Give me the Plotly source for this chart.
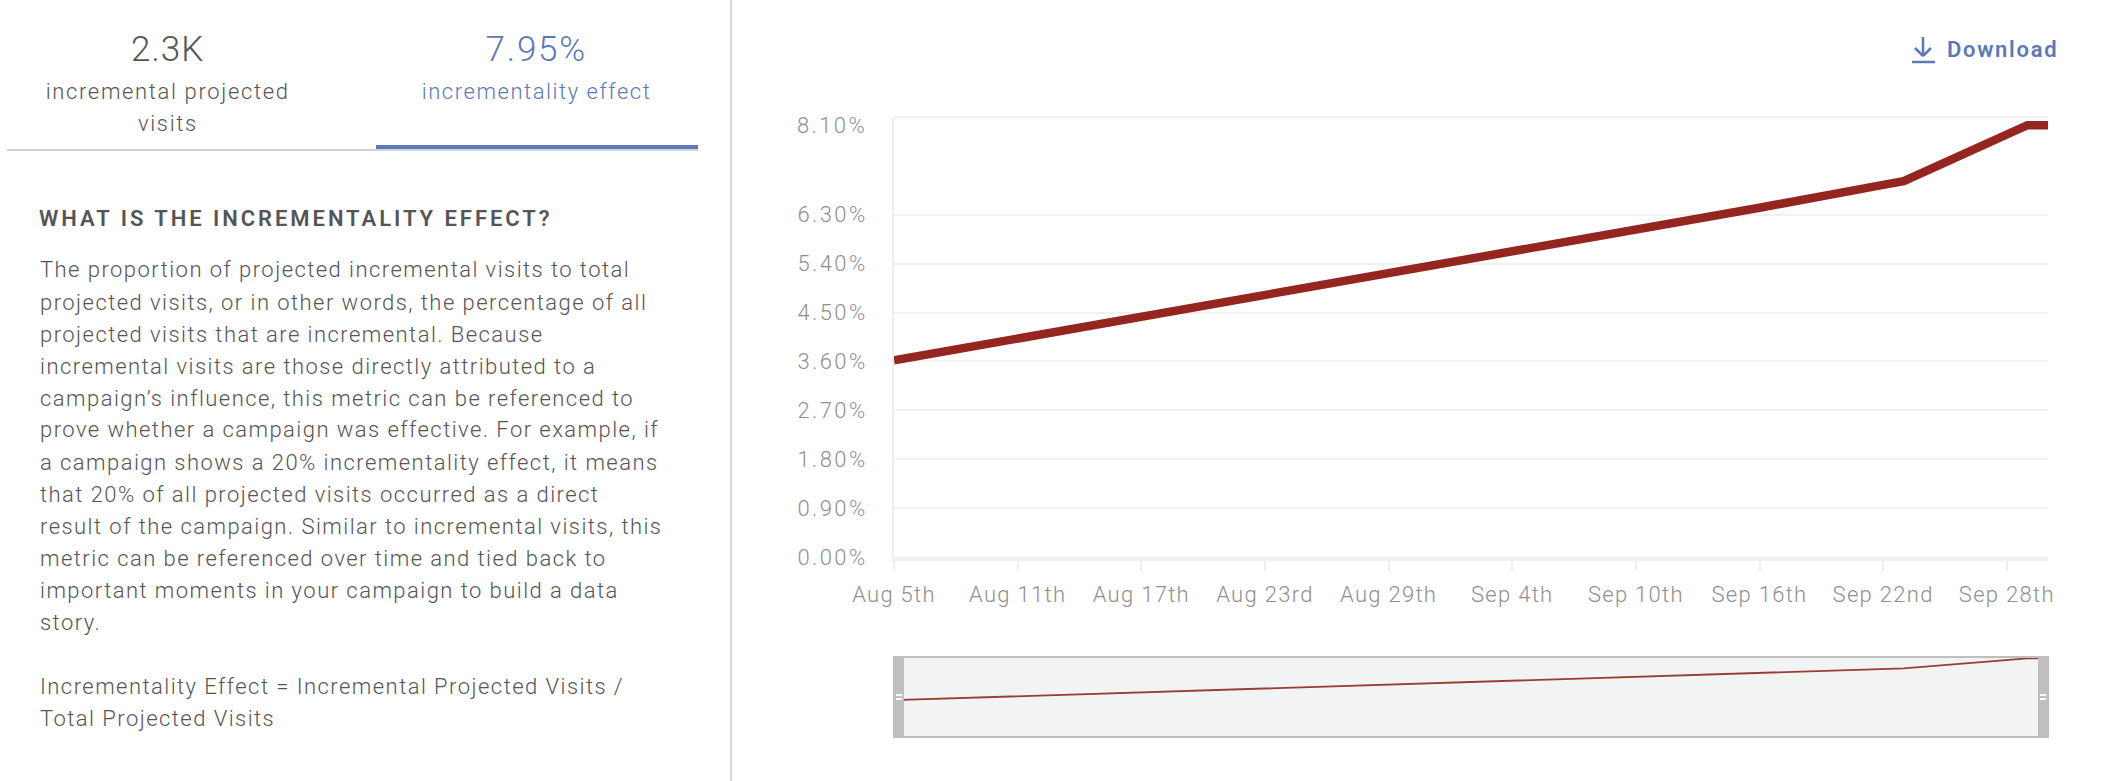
import plotly.graph_objects as go

W, H = 2104, 781

dates = ["2023-08-05", "2023-08-11", "2023-08-17", "2023-08-23", "2023-08-29", "2023-09-04",
         "2023-09-10", "2023-09-16", "2023-09-22", "2023-09-23", "2023-09-29", "2023-09-30"]
effect = [3.62, 4.02, 4.41, 4.82, 5.24, 5.64, 6.01, 6.43, 6.85, 6.92, 7.95, 7.95]

x_tick_dates = ["2023-08-05", "2023-08-11", "2023-08-17", "2023-08-23", "2023-08-29",
                "2023-09-04", "2023-09-10", "2023-09-16", "2023-09-22", "2023-09-28"]
x_tick_labels = ["Aug 5th", "Aug 11th", "Aug 17th", "Aug 23rd", "Aug 29th",
                 "Sep 4th", "Sep 10th", "Sep 16th", "Sep 22nd", "Sep 28th"]
y_tick_vals = [0, 0.9, 1.8, 2.7, 3.6, 4.5, 5.4, 6.3]
y_tick_labels = ["0.00%", "0.90%", "1.80%", "2.70%", "3.60%", "4.50%", "5.40%", "6.30%"]
y_top_label = "8.10%"
y_top_value = 8.1

body_lines = [
    "The proportion of projected incremental visits to total",
    "projected visits, or in other words, the percentage of all",
    "projected visits that are incremental. Because",
    "incremental visits are those directly attributed to a",
    "campaign’s influence, this metric can be referenced to",
    "prove whether a campaign was effective. For example, if",
    "a campaign shows a 20% incrementality effect, it means",
    "that 20% of all projected visits occurred as a direct",
    "result of the campaign. Similar to incremental visits, this",
    "metric can be referenced over time and tied back to",
    "important moments in your campaign to build a data",
    "story.",
]
formula_lines = ["Incrementality Effect = Incremental Projected Visits /", "Total Projected Visits"]

FONT = "Roboto"
DARK = "#555555"
BLUE = "#5b78b8"
RED = "#94261f"
GRID = "#f0f1f1"
TICK = "#8f8f8f"
FRAME = "#bfbfbf"


def px(x):
    return x / W


def py(y):
    return 1 - y / H


fig = go.Figure()
fig.add_trace(go.Scatter(x=dates, y=effect, mode="lines", xaxis="x", yaxis="y",
                         line=dict(color=RED, width=8.5), hoverinfo="skip", showlegend=False))
fig.add_trace(go.Scatter(x=dates, y=effect, mode="lines", xaxis="x2", yaxis="y2",
                         line=dict(color="#9c3a35", width=1.8), hoverinfo="skip", showlegend=False))


def rect(x0, y0, x1, y1, color, layer="below"):
    return dict(type="rect", xref="paper", yref="paper", x0=px(x0), x1=px(x1), y0=py(y0), y1=py(y1),
                fillcolor=color, line=dict(width=0), layer=layer)


def seg(x0, y0, x1, y1, color, w):
    return dict(type="line", xref="paper", yref="paper", x0=px(x0), x1=px(x1), y0=py(y0), y1=py(y1),
                line=dict(color=color, width=w))


shapes = [
    rect(730, 0, 732, H, "#d5d7da"),
    rect(7, 149, 698, 151, "#cfd3d6"),
    rect(376, 145, 698, 149, BLUE),
    rect(893, 656, 2049, 738, "#f2f4f3"),
    rect(893, 656, 904, 738, FRAME, "above"),
    rect(2038, 656, 2049, 738, FRAME, "above"),
    rect(893, 656, 2049, 658, FRAME, "above"),
    rect(893, 736, 2049, 738, FRAME, "above"),
    rect(896, 694, 902, 696, "#ffffff", "above"),
    rect(896, 698, 902, 700, "#ffffff", "above"),
    rect(2040, 694, 2046, 696, "#ffffff", "above"),
    rect(2040, 698, 2046, 700, "#ffffff", "above"),
    seg(1923, 37, 1923, 56, BLUE, 2.5),
    seg(1915, 48, 1923, 56, BLUE, 2.5),
    seg(1931, 48, 1923, 56, BLUE, 2.5),
    seg(1912, 62, 1935, 62, BLUE, 2.5),
    seg(894, 117, 2048, 117, GRID, 2),
]


def label(x, y, text, size, color=DARK, anchor="left", weight=400):
    return dict(xref="paper", yref="paper", x=px(x), y=py(y), text=text, showarrow=False,
                xanchor=anchor, yanchor="middle", align=anchor,
                font=dict(family=FONT, size=size, color=color, weight=weight))


annotations = [
    label(167.5, 50, "2.3K", 35, DARK, "center", 300),
    label(536.5, 50, "7.95%", 35, BLUE, "center", 300),
    label(167.5, 92, "incremental projected", 22, DARK, "center", 300),
    label(167.5, 124, "visits", 22, DARK, "center", 300),
    label(536.5, 92, "incrementality effect", 22, BLUE, "center", 300),
    label(37, 218, "WHAT IS THE INCREMENTALITY EFFECT?", 22, DARK, "left", 600),
    label(1944.5, 50, "Download", 22, BLUE, "left", 600),
    # The top tick label sits just under the top of the axis in the reference.
    dict(xref="paper", yref="paper", x=px(869), y=py(125), text=y_top_label, showarrow=False,
         xanchor="right", yanchor="middle", align="right",
         font=dict(family=FONT, size=22, color=TICK, weight=300)),
]
body_y = [270, 302, 334, 366, 398, 430, 462, 494, 526, 558, 590, 622]
for yy, line in zip(body_y, body_lines):
    annotations.append(label(38, yy, line, 22, DARK, "left", 300))
for yy, line in zip([686, 718], formula_lines):
    annotations.append(label(38, yy, line, 22, DARK, "left", 300))

x_range = ["2023-08-05", "2023-09-30"]

fig.update_layout(
    template="none",
    width=W, height=H, autosize=False,
    margin=dict(l=0, r=0, t=0, b=0, autoexpand=False),
    paper_bgcolor="white", plot_bgcolor="rgba(0,0,0,0)",
    font=dict(family=FONT),
    shapes=shapes, annotations=annotations,
    xaxis=dict(domain=[px(894), px(2048)], range=x_range, type="date", automargin=False,
               tickmode="array", tickvals=x_tick_dates, ticktext=x_tick_labels,
               showgrid=False, zeroline=False, showline=True, linecolor="#eff0f1", linewidth=4,
               ticks="outside", ticklen=10, tickwidth=2, tickcolor="#eeeeee",
               tickfont=dict(family=FONT, size=22, color=TICK, weight=300),
               ticklabelstandoff=5, anchor="y"),
    yaxis=dict(domain=[py(557), py(117)], range=[0, y_top_value], automargin=False,
               tickmode="array", tickvals=y_tick_vals, ticktext=y_tick_labels,
               showgrid=True, gridcolor=GRID, gridwidth=2, zeroline=False,
               showline=True, linecolor="#eeeeee", linewidth=2, ticks="",
               tickfont=dict(family=FONT, size=22, color=TICK, weight=300),
               ticklabelstandoff=20, anchor="x"),
    xaxis2=dict(domain=[px(894), px(2048)], range=x_range, type="date", visible=False, anchor="y2"),
    yaxis2=dict(domain=[py(735), py(657)], range=[0, y_top_value], visible=False, anchor="x2"),
)

spacing_js = """
document.body.style.margin='0';
document.documentElement.style.overflow='hidden';
document.querySelectorAll('.xtick text').forEach(function(t){t.style.letterSpacing='1.3px';});
document.querySelectorAll('.ytick text').forEach(function(t){t.style.letterSpacing='2.4px';});
document.querySelectorAll('.annotation-text').forEach(function(t){
  var s=t.textContent, v='1.45px';
  if(s==='2.3K'){v='1px';}
  else if(s==='7.95%'){v='1.8px';}
  else if(s==='incrementality effect'){v='1.55px';}
  else if(s==='incremental projected'||s==='visits'){v='1.65px';}
  else if(s.indexOf('WHAT IS')===0){v='2.95px';}
  else if(s==='Download'){v='1.7px';}
  else if(s==='8.10%'){v='2.4px';}
  t.style.letterSpacing=v;
});
"""
fig.write_html("out.html", config={"displayModeBar": False}, post_script=spacing_js)
